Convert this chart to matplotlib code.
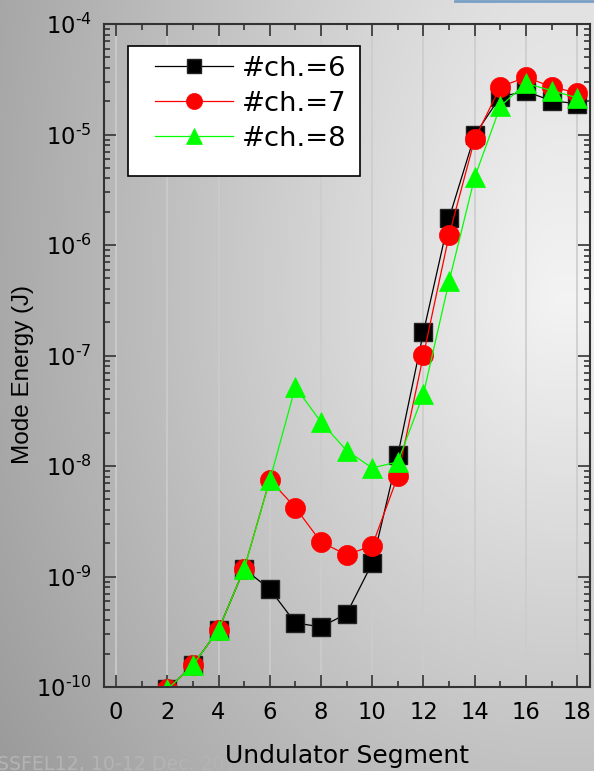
import numpy as np
import matplotlib
matplotlib.use("Agg")
import matplotlib.pyplot as plt
from matplotlib.lines import Line2D
from matplotlib.patches import Rectangle
from matplotlib.ticker import LogLocator, FixedLocator, NullFormatter

plt.rcParams['font.family'] = ['DejaVu Sans']
plt.rcParams['mathtext.fontset'] = 'dejavusans'

# ---- data ----
segments = [2, 3, 4, 5, 6, 7, 8, 9, 10, 11, 12, 13, 14, 15, 16, 17, 18]
ch6 = [0.95e-10, 1.58e-10, 3.3e-10, 1.17e-9, 7.7e-10, 3.8e-10, 3.5e-10, 4.6e-10,
       1.32e-9, 1.26e-8, 1.63e-7, 1.75e-6, 9.9e-6, 2.2e-5, 2.45e-5, 2.02e-5, 1.9e-5]
ch7 = [0.95e-10, 1.58e-10, 3.3e-10, 1.17e-9, 7.5e-9, 4.2e-9, 2.05e-9, 1.57e-9,
       1.9e-9, 8.1e-9, 1.01e-7, 1.23e-6, 9.1e-6, 2.7e-5, 3.3e-5, 2.7e-5, 2.38e-5]
ch8 = [0.95e-10, 1.58e-10, 3.3e-10, 1.17e-9, 7.4e-9, 5.2e-8, 2.5e-8, 1.38e-8,
       9.6e-9, 1.09e-8, 4.5e-8, 4.7e-7, 4.1e-6, 1.8e-5, 2.9e-5, 2.5e-5, 2.15e-5]
labels = ['#ch.=6', '#ch.=7', '#ch.=8']
xticks = [0, 2, 4, 6, 8, 10, 12, 14, 16, 18]
ydecades = [-10, -9, -8, -7, -6, -5, -4]

W, H = 594, 771
fig = plt.figure(figsize=(W / 100, H / 100), dpi=100)

# ---- gradient background ----
bg = fig.add_axes([0, 0, 1, 1], zorder=-10)
xx, yy = np.meshgrid(np.linspace(0, W, 300), np.linspace(0, H, 400))
dx = np.clip((560 - xx) / W, 0, None) * 0.31
dy = np.where(yy > 300, (yy - 300) / H * 0.32, (300 - yy) / H * 0.18)
v = 0.955 - np.sqrt(dx ** 2 + dy ** 2)
img = np.dstack([v, v, v])
bg.imshow(img, extent=[0, 1, 0, 1], aspect='auto', origin='upper')
bg.set_xlim(0, 1)
bg.set_ylim(0, 1)
bg.axis('off')

# top blue line
fig.add_artist(Line2D([455 / W, 1], [1 - 1 / H, 1 - 1 / H], transform=fig.transFigure,
                      color='#7a9fc4', lw=2))

# ---- main axes ----
L, R, T, B = 104, 590, 24, 687
ax = fig.add_axes([L / W, 1 - B / H, (R - L) / W, (B - T) / H])
ax.set_facecolor('none')

ax.plot(segments, ch6, '-', color='black', lw=0.9, marker='s', ms=13,
        mfc='black', mec='#222222', mew=1, label=labels[0])
ax.plot(segments, ch7, '-', color='red', lw=0.9, marker='o', ms=14.5,
        mfc='red', mec='red', mew=0.5, label=labels[1])
ax.plot(segments, ch8, '-', color='#00ff00', lw=0.9, marker='^', ms=15,
        mfc='#00ff00', mec='#00ff00', mew=0.5, label=labels[2])

ax.set_yscale('log')
ax.set_xlim(-0.47, 18.5)
ax.set_ylim(1e-10, 1e-4)

ax.xaxis.set_major_locator(FixedLocator(xticks))
ax.xaxis.set_minor_locator(FixedLocator([x + 1 for x in xticks[:-1]]))
ax.set_xticklabels([str(t) for t in xticks])
ax.yaxis.set_major_locator(FixedLocator([10.0 ** d for d in ydecades]))
ax.set_yticklabels(['$\\mathregular{10^{\\text{-}%d}}$' % (-d) for d in ydecades])
ax.yaxis.set_minor_locator(LogLocator(base=10, subs=np.arange(2, 10), numticks=20))
ax.yaxis.set_minor_formatter(NullFormatter())

spine_c = '#333333'
for s in ax.spines.values():
    s.set_color(spine_c)
    s.set_linewidth(1.5)
ax.tick_params(which='both', direction='in', top=True, right=True, color=spine_c,
               width=1.2, labelsize=16.3)
ax.tick_params(which='major', length=8.5)
ax.tick_params(which='minor', length=4.3)
ax.tick_params(axis='x', which='major', pad=10)
ax.tick_params(axis='y', which='major', pad=9)

ax.grid(axis='x', which='major', color='#cccccc', lw=1.2, zorder=0)
ax.set_axisbelow(True)

# legend: frame drawn separately, entries placed inside
def ax_frac(px, py):
    return (px - L) / (R - L), (B - py) / (B - T)

x0, y0 = ax_frac(128, 176)
x1, y1 = ax_frac(360, 46)
ax.add_patch(Rectangle((x0, y0), x1 - x0, y1 - y0, transform=ax.transAxes,
                       facecolor='white', edgecolor='black', lw=1.2, zorder=5))
leg = ax.legend(loc='upper left', bbox_to_anchor=ax_frac(155, 56),
                borderaxespad=0, borderpad=0, fontsize=19.7, frameon=False,
                handlelength=2.85, handletextpad=0.33, labelspacing=0.33,
                markerscale=0.8)
leg.set_zorder(6)

# axis labels
fig.text(347 / W, 1 - 763 / H, 'Undulator Segment', ha='center', va='baseline',
         fontsize=18, color='black')
fig.text(23 / W, 1 - 374 / H, 'Mode Energy (J)', ha='center', va='center',
         rotation=90, fontsize=17.5, color='black', family='Liberation Sans')

# faint footer text
fig.text(-3 / W, 1 - 770 / H, 'SSFEL12, 10-12 Dec. 2012', ha='left', va='baseline',
         fontsize=13.7, color='#b4b4b4', zorder=-5)

fig.savefig('out.png', dpi=100)
